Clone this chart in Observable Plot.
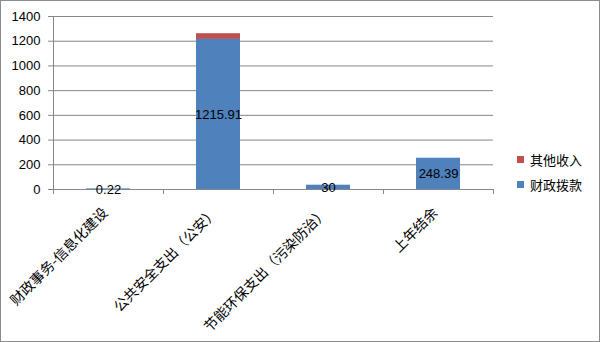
<!DOCTYPE html>
<html><head><meta charset="utf-8">
<script src="https://cdn.jsdelivr.net/npm/d3@7"></script>
<script src="https://cdn.jsdelivr.net/npm/@observablehq/plot@0.6"></script>
<style>
body{margin:0;background:#fff}
#wrap{position:relative;width:600px;height:342px}
#wrap svg{outline:1px solid #8c8c8c;outline-offset:-1px;display:block}
.lg{position:absolute;left:517px;font:13px "Noto Sans CJK SC","Liberation Sans",sans-serif;color:#000;display:flex;align-items:center;line-height:13px}
.lg span.sw{display:inline-block;width:7px;height:7px;margin-right:6px}
</style></head><body><div id="wrap"></div>
<script>
const categories = ["财政事务-信息化建设", "公共安全支出（公安）", "节能环保支出（污染防治）", "上年结余"];
const seriesNames = ["财政拨款", "其他收入"];
const fiscal = [0.22, 1215.91, 30, 248.39];
const other = [0, 40, 0, 0];
const valueLabels = ["0.22", "1215.91", "30", "248.39"];
const yTicks = [0, 200, 400, 600, 800, 1000, 1200, 1400];
const colors = ["#4F81BD", "#C0504D"];

const rows = categories.flatMap((c, i) => [
  {cat: c, series: seriesNames[0], value: fiscal[i]},
  {cat: c, series: seriesNames[1], value: other[i]}
]).filter(d => d.value > 0);

const plot = Plot.plot({
  width: 600, height: 342,
  marginLeft: 53, marginRight: 107, marginTop: 16, marginBottom: 153,
  style: {fontFamily: '"Liberation Sans","Noto Sans CJK SC",sans-serif', fontSize: "13px", background: "#fff", overflow: "visible", color: "#000"},
  x: {domain: categories, paddingInner: 0.6, paddingOuter: 0.3, label: null},
  y: {domain: [0, 1400], label: null},
  color: {domain: seriesNames, range: colors},
  marks: [
    Plot.ruleY(yTicks, {stroke: "#868686", strokeWidth: 1}),
    Plot.barY(rows, {x: "cat", y: "value", fill: "series", insetTop: -0.6}),
    Plot.text(categories, {x: d => d, y: (d, i) => fiscal[i] / 2, text: (d, i) => valueLabels[i], fill: "#000", fontSize: 13}),
    Plot.axisY(yTicks, {tickSize: 5, tickPadding: 8, stroke: "#868686", fill: "#000", fontSize: 13, tickFormat: d => String(d), label: null}),
    Plot.axisX({tickRotate: -45, tickSize: 0, tickPadding: 9, dx: -3, dy: 12, fontSize: 14, fill: "#000", fontFamily: '"Noto Sans CJK SC",sans-serif', label: null})
  ]
});

const svg = d3.select(plot);
const xs = plot.scale("x"), ys = plot.scale("y");
const y0 = ys.apply(0), yTop = ys.apply(1400);
const gap = (xs.step - xs.bandwidth) / 2;
const bounds = categories.map(c => xs.apply(c) - gap);
bounds.push(xs.apply(categories[categories.length - 1]) + xs.bandwidth + gap);
const g = svg.append("g").attr("stroke", "#868686").attr("shape-rendering", "crispEdges");
g.append("line").attr("x1", bounds[0]).attr("x2", bounds[0]).attr("y1", yTop).attr("y2", y0);
bounds.forEach(b => g.append("line").attr("x1", b).attr("x2", b).attr("y1", y0).attr("y2", y0 + 5));

const wrap = document.getElementById("wrap");
wrap.appendChild(plot);
[[seriesNames[1], colors[1], 153], [seriesNames[0], colors[0], 178]].forEach(([name, col, top]) => {
  const d = document.createElement("div");
  d.className = "lg";
  d.style.top = top + "px";
  d.innerHTML = `<span class="sw" style="background:${col}"></span>${name}`;
  wrap.appendChild(d);
});
</script></body></html>
